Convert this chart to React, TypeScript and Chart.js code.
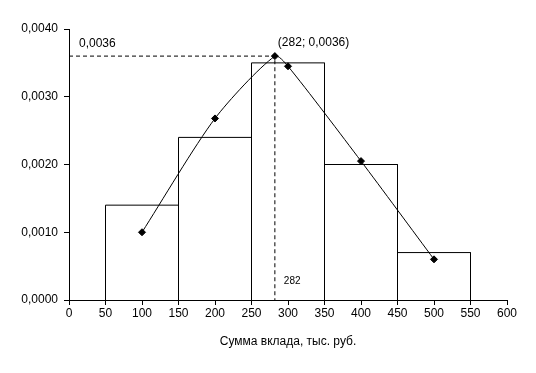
import React, { useEffect, useRef } from "react";
import { Chart, registerables } from "chart.js";

Chart.register(...registerables);

// ---- data ----
const binEdges = [50, 150, 250, 350, 450, 550];
const binDensity = [0.0014, 0.0024, 0.0035, 0.002, 0.0007];
const polygonX = [100, 200, 282, 300, 400, 500];
const polygonY = [0.001, 0.00268, 0.0036, 0.00345, 0.00205, 0.0006];
const modeX = 282;
const modeY = 0.0036;
const xMin = 0;
const xMax = 600;
const xStep = 50;
const yMin = 0;
const yMax = 0.004;
const yStep = 0.001;
const xTitle = "Сумма вклада, тыс. руб.";

const FONT = "'Liberation Sans', Arial, sans-serif";
const fmt = (v: number) => v.toFixed(4).replace(".", ",");

const annotationPlugin = {
  id: "modeLabels",
  afterDatasetsDraw(chart: any) {
    const { ctx } = chart;
    const xs = chart.scales.x;
    const ys = chart.scales.y;
    const px = xs.getPixelForValue(modeX);
    const py = ys.getPixelForValue(modeY);
    ctx.save();
    ctx.fillStyle = "#000";
    ctx.textBaseline = "middle";
    ctx.textAlign = "left";
    ctx.font = `12px ${FONT}`;
    ctx.fillText(fmt(modeY), xs.getPixelForValue(xMin) + 10, py - 12);
    ctx.fillText(`(${modeX}; ${fmt(modeY)})`, px + 3, py - 13);
    ctx.font = `10px ${FONT}`;
    ctx.fillText(String(modeX), px + 9, ys.getPixelForValue(0) - 19);
    ctx.restore();
  },
};

export default function App() {
  const ref = useRef<HTMLCanvasElement | null>(null);

  useEffect(() => {
    if (!ref.current) return;

    const outline: { x: number; y: number }[] = [];
    for (let i = 0; i < binDensity.length; i++) {
      outline.push({ x: binEdges[i], y: 0 });
      outline.push({ x: binEdges[i], y: binDensity[i] });
      outline.push({ x: binEdges[i + 1], y: binDensity[i] });
      outline.push({ x: binEdges[i + 1], y: 0 });
    }
    const polygon = polygonX.map((x, i) => ({ x, y: polygonY[i] }));
    const guide = [
      { x: xMin, y: modeY },
      { x: modeX, y: modeY },
      { x: modeX, y: 0 },
    ];

    const chart = new Chart(ref.current, {
      type: "line",
      data: {
        datasets: [
          {
            data: outline,
            borderColor: "#000",
            borderWidth: 1,
            pointRadius: 0,
            tension: 0,
            fill: false,
          },
          {
            data: guide,
            borderColor: "#000",
            borderWidth: 1,
            borderDash: [4, 3],
            pointRadius: 0,
            tension: 0,
            fill: false,
          },
          {
            data: polygon,
            borderColor: "#000",
            borderWidth: 1,
            pointStyle: "rectRot",
            pointRadius: 3.5,
            pointBackgroundColor: "#000",
            pointBorderColor: "#000",
            tension: 0.25,
            fill: false,
          },
        ],
      },
      options: {
        responsive: false,
        animation: false,
        devicePixelRatio: 1,
        layout: { padding: { top: 29, right: 29, bottom: 20, left: 0 } },
        plugins: {
          legend: { display: false },
          tooltip: { enabled: false },
        },
        scales: {
          x: {
            type: "linear",
            min: xMin,
            max: xMax,
            offset: false,
            afterFit: (s: any) => {
              s.height = 53;
            },
            ticks: {
              stepSize: xStep,
              color: "#000",
              font: { family: FONT, size: 12 },
              padding: 1,
              maxRotation: 0,
              autoSkip: false,
            },
            grid: {
              drawOnChartArea: false,
              drawTicks: true,
              tickLength: 5,
              color: "#000",
            },
            border: { display: true, color: "#000", width: 1 },
            title: {
              display: true,
              text: xTitle,
              color: "#000",
              font: { family: FONT, size: 12 },
            },
          },
          y: {
            type: "linear",
            min: yMin,
            max: yMax,
            afterFit: (s: any) => {
              s.width = 69;
            },
            ticks: {
              stepSize: yStep,
              color: "#000",
              font: { family: FONT, size: 12 },
              padding: 6,
              callback: (v: any) => fmt(Number(v)),
            },
            grid: {
              drawOnChartArea: false,
              drawTicks: true,
              tickLength: 5,
              color: "#000",
            },
            border: { display: true, color: "#000", width: 1 },
          },
        },
      },
      plugins: [annotationPlugin],
    });
    return () => chart.destroy();
  }, []);

  return (
    <div style={{ position: "fixed", left: 0, top: 0, width: 536, height: 373, background: "#fff" }}>
      <canvas ref={ref} width={536} height={373} />
    </div>
  );
}
